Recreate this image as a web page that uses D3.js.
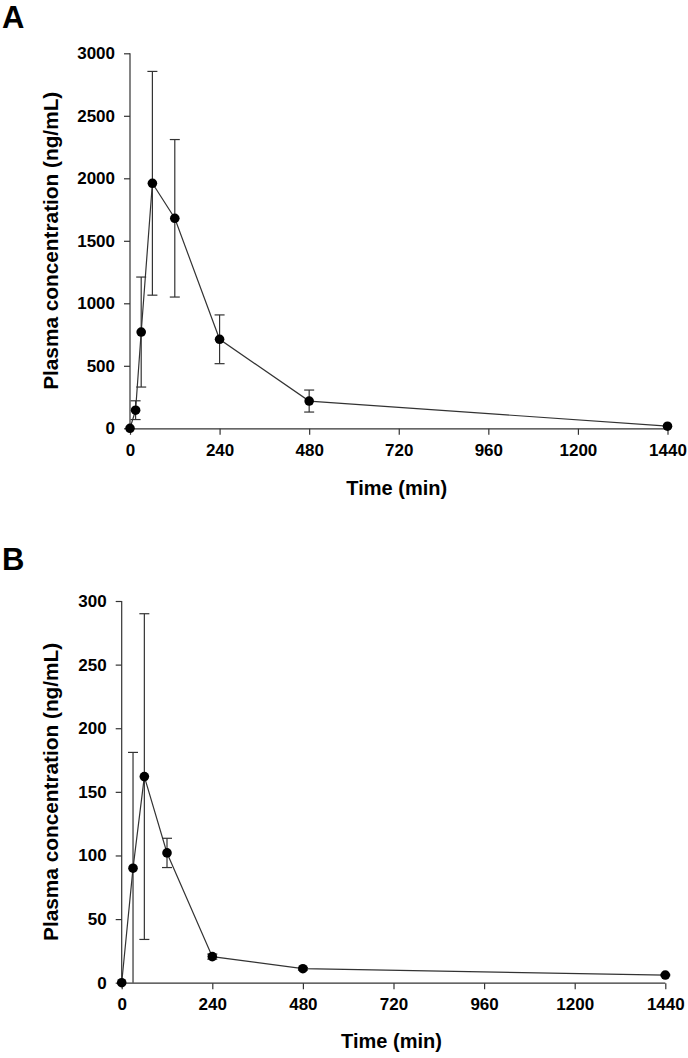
<!DOCTYPE html>
<html>
<head>
<meta charset="utf-8">
<script src="https://cdn.jsdelivr.net/npm/d3@7"></script>
<style>
  html, body { margin: 0; padding: 0; background: #fff; }
  svg { display: block; }
  text { font-family: "Liberation Sans", Arial, sans-serif; font-weight: bold; fill: #000; }
</style>
</head>
<body>
<svg id="chart" width="688" height="1058"></svg>
<script>
// ---- Data ----
const timeTicks = [0, 240, 480, 720, 960, 1200, 1440];

const timesA = [0, 15, 30, 60, 120, 240, 480, 1440];
const concA  = [0, 145, 770, 1960, 1680, 712, 218, 17];
const errA   = [0, 75, 440, 895, 630, 195, 88, 0];
const yTicksA = [0, 500, 1000, 1500, 2000, 2500, 3000];

const timesB = [0, 30, 60, 120, 240, 480, 1440];
const concB  = [0, 90, 162, 102, 20.5, 11, 6];
const errB   = [0, 91, 128, 11.5, 2, 1, 0.5];
const yTicksB = [0, 50, 100, 150, 200, 250, 300];

const xTitle = "Time (min)";
const yTitle = "Plasma concentration (ng/mL)";

const svg = d3.select("#chart");
const lineColor = "#333";

function panel(cfg) {
  const g = svg.append("g");
  const x = d3.scaleLinear().domain([0, 1440]).range([cfg.x0, cfg.x1]);
  const y = d3.scaleLinear().domain(cfg.yDomain).range([cfg.y0, cfg.y1]).clamp(true);

  // axes
  const xAxis = d3.axisBottom(x).tickValues(timeTicks).tickSize(6).tickPadding(9).tickFormat(d3.format("d"));
  const yAxis = d3.axisLeft(y).tickValues(cfg.yTicks).tickSize(6).tickPadding(9).tickFormat(d3.format("d"));

  const gx = g.append("g").attr("transform", `translate(0,${cfg.y0 + 0.5})`).call(xAxis);
  const gy = g.append("g").attr("transform", `translate(${cfg.x0},0)`).call(yAxis);
  [gx, gy].forEach(a => {
    a.select(".domain").attr("stroke", lineColor).attr("stroke-width", 1.2);
    a.selectAll(".tick line").attr("stroke", lineColor).attr("stroke-width", 1.2);
    a.selectAll(".tick text").style("font-size", "17px").style("font-family", "'Liberation Sans', Arial, sans-serif").style("font-weight", "bold").attr("fill", "#000");
  });
  gx.select(".domain").attr("d", `M${cfg.x0},0H${cfg.x1}`);
  gy.select(".domain").attr("d", `M0,${cfg.y0}V${cfg.y1}`);

  const pts = cfg.times.map((t, i) => ({t, v: cfg.conc[i], e: cfg.err[i]}));

  // error bars
  const capW = 5;
  const eb = g.append("g").attr("stroke", lineColor).attr("stroke-width", 1.2).attr("fill", "none");
  pts.filter(d => d.e > 0).forEach(d => {
    const cx = x(d.t), top = y(d.v + d.e), bot = y(d.v - d.e);
    eb.append("line").attr("x1", cx).attr("x2", cx).attr("y1", top).attr("y2", bot);
    eb.append("line").attr("x1", cx - capW).attr("x2", cx + capW).attr("y1", top).attr("y2", top);
    if (d.v - d.e > cfg.yDomain[0]) {
      eb.append("line").attr("x1", cx - capW).attr("x2", cx + capW).attr("y1", bot).attr("y2", bot);
    }
  });

  // line
  g.append("path").datum(pts)
    .attr("fill", "none").attr("stroke", lineColor).attr("stroke-width", 1.2)
    .attr("d", d3.line().x(d => x(d.t)).y(d => y(d.v)));

  // markers
  g.append("g").selectAll("circle").data(pts).join("circle")
    .attr("cx", d => x(d.t)).attr("cy", d => y(d.v)).attr("r", 4.8).attr("fill", "#000");

  // titles
  g.append("text").attr("x", (cfg.x0 + cfg.x1) / 2 - 2).attr("y", cfg.xTitleY)
    .attr("text-anchor", "middle").style("font-size", "20px").text(xTitle);
  g.append("text").attr("transform", `translate(${cfg.yTitleX},${(cfg.y0 + cfg.y1) / 2}) rotate(-90)`)
    .attr("text-anchor", "middle").style("font-size", "20.8px").text(yTitle);

  // panel letter
  g.append("text").attr("x", 2).attr("y", cfg.letterY).style("font-size", "31px").text(cfg.letter);
}

panel({
  letter: "A", letterY: 28,
  times: timesA, conc: concA, err: errA,
  yDomain: [0, 3000], yTicks: yTicksA,
  x0: 130, x1: 667.5, y0: 428.3, y1: 53.3,
  xTitleY: 495, yTitleX: 58
});

panel({
  letter: "B", letterY: 570,
  times: timesB, conc: concB, err: errB,
  yDomain: [0, 300], yTicks: yTicksB,
  x0: 121.7, x1: 665.3, y0: 982.7, y1: 601,
  xTitleY: 1048, yTitleX: 58
});
</script>
</body>
</html>
